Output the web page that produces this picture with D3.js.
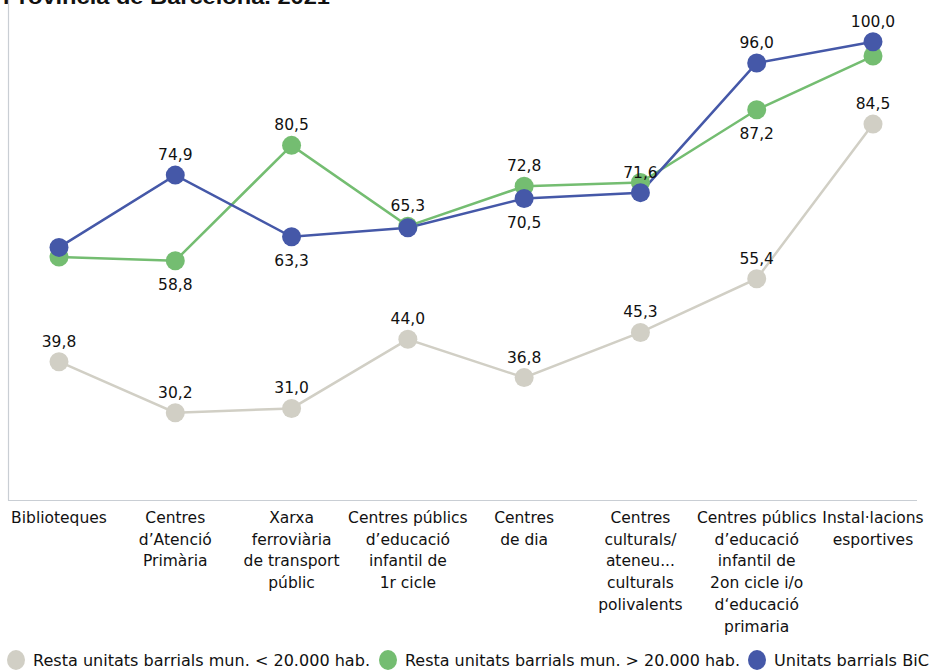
<!DOCTYPE html>
<html>
<head>
<meta charset="utf-8">
<script src="https://cdn.jsdelivr.net/npm/d3@7"></script>
<style>
  html, body { margin: 0; padding: 0; background: #fff; }
  svg { display: block; }
</style>
</head>
<body>
<svg id="chart" width="932" height="670"></svg>
<script>
// ---- data ----
const categories = [
  ["Biblioteques"],
  ["Centres", "d\u2019Atenció", "Primària"],
  ["Xarxa", "ferroviària", "de transport", "públic"],
  ["Centres públics", "d\u2019educació", "infantil de", "1r cicle"],
  ["Centres", "de dia"],
  ["Centres", "culturals/", "ateneu...", "culturals", "polivalents"],
  ["Centres públics", "d\u2019educació", "infantil de", "2on cicle i/o", "d\u2018educació", "primaria"],
  ["Instal·lacions", "esportives"]
];
const seriesNames = [
  "Resta unitats barrials mun. < 20.000 hab.",
  "Resta unitats barrials mun. > 20.000 hab.",
  "Unitats barrials BiC"
];
const restaMenor = [39.8, 30.2, 31.0, 44.0, 36.8, 45.3, 55.4, 84.5];
const restaMajor = [59.5, 58.8, 80.5, 65.3, 72.8, 73.5, 87.2, 97.3];
const bic       = [61.3, 74.9, 63.3, 65.0, 70.5, 71.6, 96.0, 100.0];
// which labels to show and where: 1 = above, -1 = below, 0 = hidden
const restaMenorLab = [1, 1, 1, 1, 1, 1, 1, 1];
const restaMajorLab = [0, -1, 1, 1, 1, 0, -1, 0];
const bicLab        = [0, 1, -1, 0, -1, 1, 1, 1];
const title = "Província de Barcelona. 2021";

const colors = ["#d1cfc5", "#74bd71", "#4558a8"];
const series = [
  { name: seriesNames[0], values: restaMenor, labs: restaMenorLab, color: colors[0] },
  { name: seriesNames[1], values: restaMajor, labs: restaMajorLab, color: colors[1] },
  { name: seriesNames[2], values: bic, labs: bicLab, color: colors[2] }
];

const svg = d3.select("#chart");
const font = "'DejaVu Sans', sans-serif";
const keys = categories.map((c, i) => i);

const x = d3.scalePoint().domain(keys).range([59, 873]);
const y = d3.scaleLinear().domain([13.77, 107.85]).range([500, 0]);

const fmt = v => d3.format(".1f")(v).replace(".", ",");

// title (cut off at top, as in the reference)
svg.append("text")
  .attr("x", 3).attr("y", 4)
  .attr("font-family", "'Liberation Sans', Arial, sans-serif")
  .attr("font-weight", "bold")
  .attr("font-size", 20)
  .attr("textLength", 327)
  .attr("lengthAdjust", "spacingAndGlyphs")
  .attr("fill", "#111")
  .text(title);

// axes lines
svg.append("line").attr("x1", 8.5).attr("x2", 8.5).attr("y1", 0).attr("y2", 500.5)
  .attr("stroke", "#c9ced4").attr("stroke-width", 1.2);
svg.append("line").attr("x1", 8).attr("x2", 917).attr("y1", 500.5).attr("y2", 500.5)
  .attr("stroke", "#c9ced4").attr("stroke-width", 1.2);

// category labels
const catG = svg.append("g").attr("font-family", font).attr("font-size", 15.5).attr("fill", "#111");
categories.forEach((lines, i) => {
  const t = catG.append("text").attr("text-anchor", "middle");
  lines.forEach((ln, j) => {
    t.append("tspan").attr("x", x(i)).attr("y", 523 + j * 21.7).text(ln);
  });
});

// lines and points
const line = d3.line().x((d, i) => x(i)).y(d => y(d));
series.forEach(s => {
  svg.append("path").datum(s.values)
    .attr("d", line).attr("fill", "none")
    .attr("stroke", s.color).attr("stroke-width", 2.5);
});
series.forEach(s => {
  svg.append("g").selectAll("circle").data(s.values).join("circle")
    .attr("cx", (d, i) => x(i)).attr("cy", d => y(d)).attr("r", 9.5)
    .attr("fill", s.color);
});

// data labels
const labG = svg.append("g").attr("font-family", font).attr("font-size", 15.5)
  .attr("fill", "#111").attr("text-anchor", "middle");
series.forEach(s => {
  s.values.forEach((v, i) => {
    const pos = s.labs[i];
    if (!pos) return;
    labG.append("text")
      .attr("x", x(i))
      .attr("y", pos > 0 ? y(v) - 15 : y(v) + 29)
      .text(fmt(v));
  });
});

// legend
const legX = [16, 388, 757];
const legW = [337, 335, 155];
const legG = svg.append("g").attr("font-family", font).attr("font-size", 15.5).attr("fill", "#111");
series.forEach((s, i) => {
  legG.append("ellipse").attr("cx", legX[i]).attr("cy", 660).attr("rx", 9).attr("ry", 10)
    .attr("fill", s.color);
  legG.append("text").attr("x", legX[i] + 17).attr("y", 666)
    .attr("textLength", legW[i]).attr("lengthAdjust", "spacingAndGlyphs")
    .text(s.name);
});
</script>
</body>
</html>
